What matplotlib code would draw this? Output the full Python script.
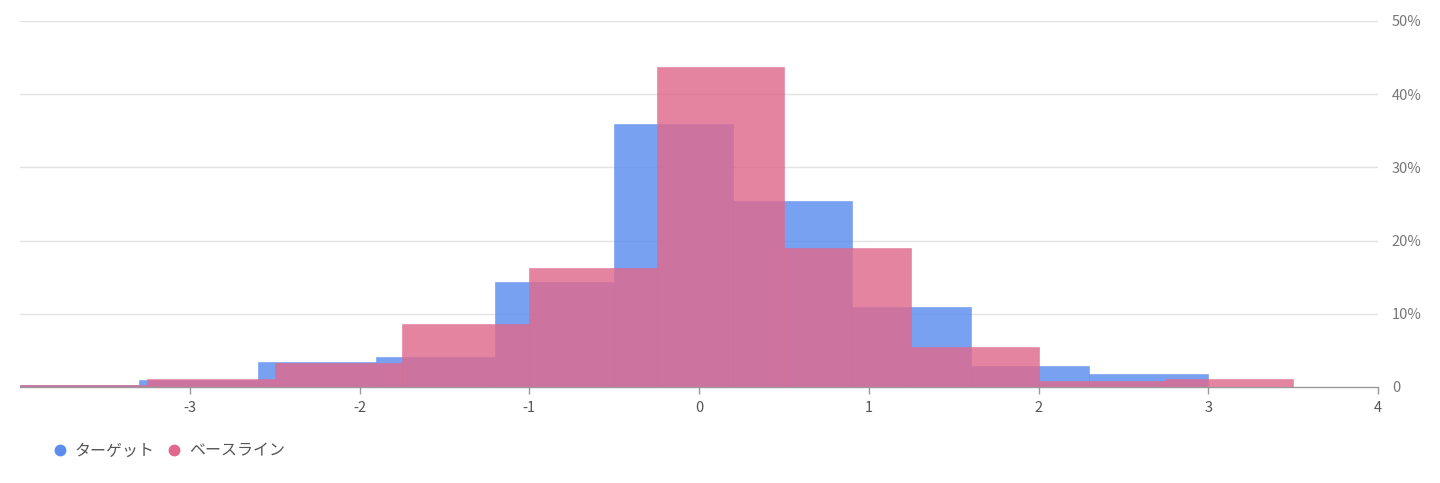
import numpy as np
import matplotlib.pyplot as plt
from matplotlib.lines import Line2D

plt.rcParams['font.family'] = ['Noto Sans CJK JP', 'DejaVu Sans']

# ビンの境界（データ単位）
target_edges = [-4.0, -3.3, -2.6, -1.9, -1.2, -0.5, 0.2, 0.9, 1.6, 2.3, 3.0]
baseline_edges = [-4.0, -3.25, -2.5, -1.75, -1.0, -0.25, 0.5, 1.25, 2.0, 2.75, 3.5]

# 各ビンの割合（%）
target_pct = [0.3, 0.9, 3.45, 4.05, 14.4, 35.9, 25.4, 10.9, 2.9, 1.8]
baseline_pct = [0.25, 1.05, 3.3, 8.6, 16.2, 43.7, 19.0, 5.5, 0.8, 1.05]

labels = ['ターゲット', 'ベースライン']
colors = ['#5B8DEF', '#E0698D']

x_ticks = [-3, -2, -1, 0, 1, 2, 3, 4]
y_ticks = [0, 10, 20, 30, 40, 50]

fig = plt.figure(figsize=(14.4, 4.83), dpi=100)
ax = fig.add_axes([20 / 1440, 1 - 387 / 483, (1378 - 20) / 1440, (387 - 21) / 483])

for edges, pct, c in [(target_edges, target_pct, colors[0]),
                      (baseline_edges, baseline_pct, colors[1])]:
    e = np.array(edges)
    ax.bar(e[:-1], pct, width=np.diff(e), align='edge', color=c, alpha=0.82,
           edgecolor=c, linewidth=0.4, zorder=2)

ax.set_xlim(-4, 4)
ax.set_ylim(0, 50)

# グリッド
for y in y_ticks[1:]:
    ax.axhline(y, color='#e3e3e3', linewidth=1, zorder=1)

ax.yaxis.tick_right()
ax.set_yticks(y_ticks)
ax.set_yticklabels(['0' if v == 0 else f'{v}%' for v in y_ticks])
ax.tick_params(axis='y', length=0, pad=10, labelsize=10.5, labelcolor='#777777')

ax.set_xticks(x_ticks)
ax.set_xticklabels([str(v) for v in x_ticks])
ax.tick_params(axis='x', length=5, width=1, color='#999999', pad=5,
               labelsize=10.5, labelcolor='#555555')

for s in ['top', 'left', 'right']:
    ax.spines[s].set_visible(False)
ax.spines['bottom'].set_color('#999999')
ax.spines['bottom'].set_linewidth(1)
ax.spines['bottom'].set_zorder(3)

handles = [Line2D([0], [0], marker='o', linestyle='', markersize=7.5,
                  markerfacecolor=c, markeredgecolor=c) for c in colors]
fig.legend(handles, labels, loc='center left', bbox_to_anchor=(53.6 / 1440, 1 - 451 / 483),
           ncol=2, frameon=False, fontsize=11.5, handlelength=0.8, handletextpad=0.5,
           columnspacing=0.85, borderpad=0, borderaxespad=0, labelcolor='#555555')

fig.savefig('out.png', dpi=100)
